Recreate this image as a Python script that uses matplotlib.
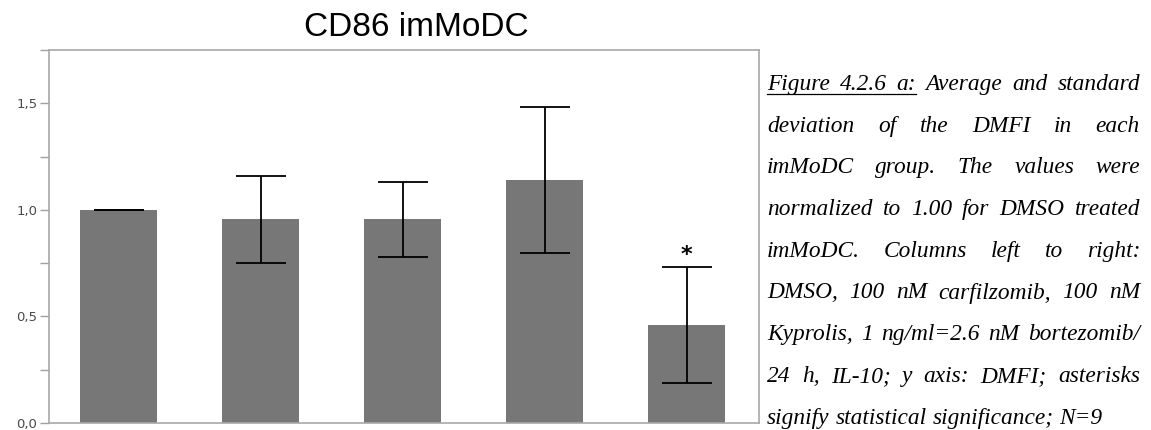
import matplotlib
matplotlib.use("Agg")
import matplotlib.pyplot as plt
from matplotlib.ticker import MultipleLocator, FuncFormatter

# values (DMFI, normalized to DMSO)
groups = ["DMSO", "carfilzomib", "Kyprolis", "bortezomib", "IL-10"]
means = [1.00, 0.955, 0.955, 1.14, 0.46]
sds = [0.0, 0.205, 0.178, 0.342, 0.27]
significant = [False, False, False, False, True]

caption_lines = [
    "Figure 4.2.6 a: Average and standard",
    "deviation of the DMFI in each",
    "imMoDC group. The values were",
    "normalized to 1.00 for DMSO treated",
    "imMoDC. Columns left to right:",
    "DMSO, 100 nM carfilzomib, 100 nM",
    "Kyprolis, 1 ng/ml=2.6 nM bortezomib/",
    "24 h, IL-10; y axis: DMFI; asterisks",
    "signify statistical significance; N=9",
]

W, H = 1151, 430
fig = plt.figure(figsize=(W / 100, H / 100), dpi=100)
fig.patch.set_facecolor("white")

ax = fig.add_axes([49 / W, 7 / H, 710 / W, 373 / H])
x = range(len(groups))
ax.bar(x, means, width=0.54, color="#777777", zorder=2)
ax.errorbar(x, means, yerr=sds, fmt="none", ecolor="black", elinewidth=1.3,
            capsize=18, capthick=1.3, zorder=3)
for i, (m, s, sig) in enumerate(zip(means, sds, significant)):
    if sig:
        ax.text(i, m + s + 0.012, "*", ha="center", va="bottom",
                fontsize=16, fontweight="bold", color="black")

ax.set_xlim(-0.49, 4.51)
ax.set_ylim(0, 1.75)
ax.set_xticks([])
ax.yaxis.set_major_locator(MultipleLocator(0.5))
ax.yaxis.set_minor_locator(MultipleLocator(0.25))
ax.yaxis.set_major_formatter(FuncFormatter(lambda v, p: f"{v:.1f}".replace(".", ",")))
ax.tick_params(axis="y", which="both", direction="out", length=6.5, width=1,
               color="#a0a0a0", labelsize=9.5, labelcolor="#4a4a4a", pad=2)
for sp in ax.spines.values():
    sp.set_color("#a8a8a8")
    sp.set_linewidth(1.2)

fig.text(416 / W, 1 - 27 / H, "CD86 imMoDC", ha="center", va="center",
         fontsize=24, family="Liberation Sans")

# justified caption on the right
renderer = fig.canvas.get_renderer()
left, right = 767, 1140
y0, step = 90, 41.7
cap_font = dict(family="Liberation Serif", style="italic", fontsize=16.8)


def text_width(s):
    t = fig.text(0, 0, s, **cap_font)
    w = t.get_window_extent(renderer).width
    t.remove()
    return w


sp_w = text_width("a a") - 2 * text_width("a")
for li, line in enumerate(caption_lines):
    words = line.split(" ")
    y = H - (y0 + li * step)
    texts = [fig.text(0, y / H, w, va="baseline", ha="left", **cap_font) for w in words]
    widths = [t.get_window_extent(renderer).width for t in texts]
    if li < len(caption_lines) - 1 and len(words) > 1:
        gap = (right - left - sum(widths)) / (len(words) - 1)
    else:
        gap = sp_w
    xp = left
    for t, wd in zip(texts, widths):
        t.set_x(xp / W)
        xp += wd + gap
    if li == 0:
        end = left + sum(widths[:3]) + 2 * gap
        fig.add_artist(plt.Line2D([left / W, end / W], [(y - 4) / H, (y - 4) / H],
                                  color="black", lw=0.9, transform=fig.transFigure))

fig.savefig("out.png", dpi=100, facecolor="white")
